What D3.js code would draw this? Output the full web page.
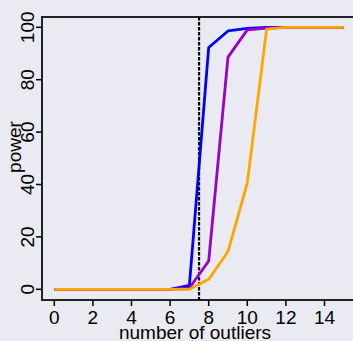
<!DOCTYPE html>
<html>
<head>
<meta charset="utf-8">
<script src="https://cdn.jsdelivr.net/npm/d3@7"></script>
<style>
  html, body { margin: 0; padding: 0; background: #eaeaf2; }
  svg { display: block; font-family: 'Liberation Sans', Arial, sans-serif; }
</style>
</head>
<body>
<div id="chart"></div>
<script>
const svgWidth = 353;
const svgHeight = 341;

// number of outliers
const outliers = d3.range(0, 16);
const bluePower = [0, 0, 0, 0, 0, 0, 0, 1.5, 92.3, 98.6, 99.6, 100, 100, 100, 100, 100];
const purplePower = [0, 0, 0, 0, 0, 0, 0, 0.5, 10.8, 88.6, 99, 99.7, 100, 100, 100, 100];
const orangePower = [0, 0, 0, 0, 0, 0, 0, 0, 3.8, 14.4, 40.6, 99.3, 100, 100, 100, 100];
const xTicks = [0, 2, 4, 6, 8, 10, 12, 14];
const yTicks = [0, 20, 40, 60, 80, 100];
const cutoff = 7.5;

const series = [
  { color: '#0000ff', values: bluePower },
  { color: '#9a00cc', values: purplePower },
  { color: '#ffa500', values: orangePower },
];

const plot = { left: 42, top: 17, bottom: 300, right: 360 };

const svg = d3.select('#chart').append('svg').attr('width', svgWidth).attr('height', svgHeight);

const x = d3.scaleLinear().domain([0, 14]).range([54.3, 324.5]);
const y = d3.scaleLinear().domain([0, 100]).range([289.3, 27.3]);

// box (top, left, bottom)
svg.append('path')
  .attr('d', `M${plot.right},${plot.top}H${plot.left}V${plot.bottom}H${plot.right}`)
  .attr('fill', 'none')
  .attr('stroke', '#222')
  .attr('stroke-width', 2);

// x axis
const xAxis = svg.append('g');
xAxis.selectAll('line')
  .data(xTicks)
  .join('line')
  .attr('x1', (d) => x(d)).attr('x2', (d) => x(d))
  .attr('y1', plot.bottom).attr('y2', plot.bottom + 6)
  .attr('stroke', '#000').attr('stroke-width', 1.5);
xAxis.selectAll('text')
  .data(xTicks)
  .join('text')
  .attr('x', (d) => x(d))
  .attr('y', 324)
  .attr('text-anchor', 'middle')
  .style('font-size', '19px')
  .text((d) => d);

// y axis
const yAxis = svg.append('g');
yAxis.selectAll('line')
  .data(yTicks)
  .join('line')
  .attr('x1', plot.left - 6).attr('x2', plot.left)
  .attr('y1', (d) => y(d)).attr('y2', (d) => y(d))
  .attr('stroke', '#000').attr('stroke-width', 1.5);
yAxis.selectAll('text')
  .data(yTicks)
  .join('text')
  .attr('transform', (d) => `translate(34, ${y(d)}) rotate(-90)`)
  .attr('text-anchor', 'middle')
  .style('font-size', '19px')
  .text((d) => d);

svg.append('text')
  .attr('x', 195)
  .attr('y', 339)
  .attr('text-anchor', 'middle')
  .style('font-size', '19px')
  .text('number of outliers');

svg.append('text')
  .attr('transform', 'translate(21, 147) rotate(-90)')
  .attr('text-anchor', 'middle')
  .style('font-size', '19px')
  .text('power');

// cutoff
svg.append('line')
  .attr('x1', x(cutoff)).attr('x2', x(cutoff))
  .attr('y1', plot.top).attr('y2', plot.bottom)
  .attr('stroke', '#000')
  .attr('stroke-width', 2.2)
  .attr('stroke-dasharray', '3.5,1.5');

const line = d3.line()
  .x((d, i) => x(outliers[i]))
  .y((d) => y(d));

svg.selectAll('path.series')
  .data(series)
  .join('path')
  .attr('class', 'series')
  .attr('fill', 'none')
  .attr('stroke', (d) => d.color)
  .attr('stroke-width', 2.8)
  .attr('stroke-linejoin', 'round')
  .attr('d', (d) => line(d.values));
</script>
</body>
</html>
